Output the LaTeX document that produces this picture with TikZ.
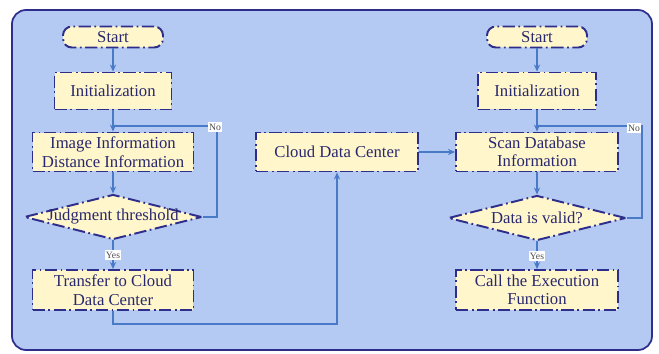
\documentclass[tikz,border=0pt]{standalone}
\usepackage{fontspec}
\setmainfont{Liberation Serif}
\usetikzlibrary{arrows.meta, positioning, shapes.geometric}

\definecolor{panelblue}{RGB}{180,202,242}
\definecolor{navy}{RGB}{45,45,140}
\definecolor{paleyellow}{RGB}{255,246,204}
\definecolor{inkblue}{RGB}{40,40,110}
\definecolor{flowblue}{RGB}{72,122,200}

\begin{document}
\begin{tikzpicture}[x=0.02cm, y=-0.02cm,
    every node/.style={font=\fontsize{9.5}{10.5}\selectfont, text=inkblue},
    box/.style={rectangle, draw=navy, fill=paleyellow, line width=1.1pt,
        dash pattern=on 7pt off 2pt on 1pt off 2pt, align=center, inner sep=1pt},
    term/.style={box, rounded corners=5pt, minimum width=2cm, minimum height=0.42cm},
    decide/.style={diamond, draw=navy, fill=paleyellow, line width=1.1pt,
        dash pattern=on 7pt off 2pt on 1pt off 2pt, inner sep=0pt,
        minimum width=3.55cm, minimum height=0.9cm},
    flow/.style={draw=flowblue, line width=1pt, -{Stealth[length=4pt, width=3.5pt]}},
    plain/.style={draw=flowblue, line width=1pt},
    tag/.style={fill=white, inner sep=0.8pt, font=\fontsize{5.5}{6}\selectfont, text=black!70}]

    % panel
    \path[use as bounding box] (0,0) rectangle (659,354);
    \draw[fill=panelblue, draw=navy, line width=1pt, rounded corners=8pt] (12,10) rectangle (652,350);

    % left column
    \node[term] (start1) at (113,37) {Start};
    \node[box, minimum width=2.34cm, minimum height=0.74cm] (init1) at (113,91) {Initialization};
    \node[box, minimum width=3.22cm, minimum height=0.78cm] (img) at (113,152) {Image Information\\Distance Information};
    \node[decide] (judge) at (113,217) {};
    \node (judgetxt) at (judge) {Judgment threshold};
    \node[box, minimum width=3.22cm, minimum height=0.8cm] (send) at (113,290) {Transfer to Cloud\\Data Center};

    % middle
    \node[box, minimum width=3.24cm, minimum height=0.78cm] (cloud) at (337,152) {Cloud Data Center};

    % right column
    \node[term] (start2) at (537,37) {Start};
    \node[box, minimum width=2.36cm, minimum height=0.74cm] (init2) at (537,91) {Initialization};
    \node[box, minimum width=3.24cm, minimum height=0.78cm] (scan) at (537,152) {Scan Database\\Information};
    \node[decide] (valid) at (537,218) {};
    \node (validtxt) at (valid) {Data is valid?};
    \node[box, minimum width=3.24cm, minimum height=0.8cm] (call) at (537,290) {Call the Execution\\Function};

    % merge points
    \coordinate (merge1) at (113,126);
    \coordinate (merge2) at (537,126);

    % connectors
    \draw[flow] (start1) -- (init1);
    \draw[flow] (init1) -- (img);
    \draw[flow] (img) -- (judge);
    \draw[plain] (judge.east) -- ++(14,0) |- (merge1);
    \draw[flow] (judge) -- (send);
    \draw[flow] (send.south) -- ++(0,13) -| (cloud.south);
    \draw[flow] (cloud) -- (scan);

    \draw[flow] (start2) -- (init2);
    \draw[flow] (init2) -- (scan);
    \draw[flow] (scan) -- (valid);
    \draw[plain] (valid.east) -- ++(15,0) |- (merge2);
    \draw[flow] (valid) -- (call);

    % labels
    \node[tag] (no1) at (215,127) {No};
    \node[tag] (yes1) at (113,255) {Yes};
    \node[tag] (no2) at (634,128) {No};
    \node[tag] (yes2) at (537,256) {Yes};
\end{tikzpicture}
\end{document}
